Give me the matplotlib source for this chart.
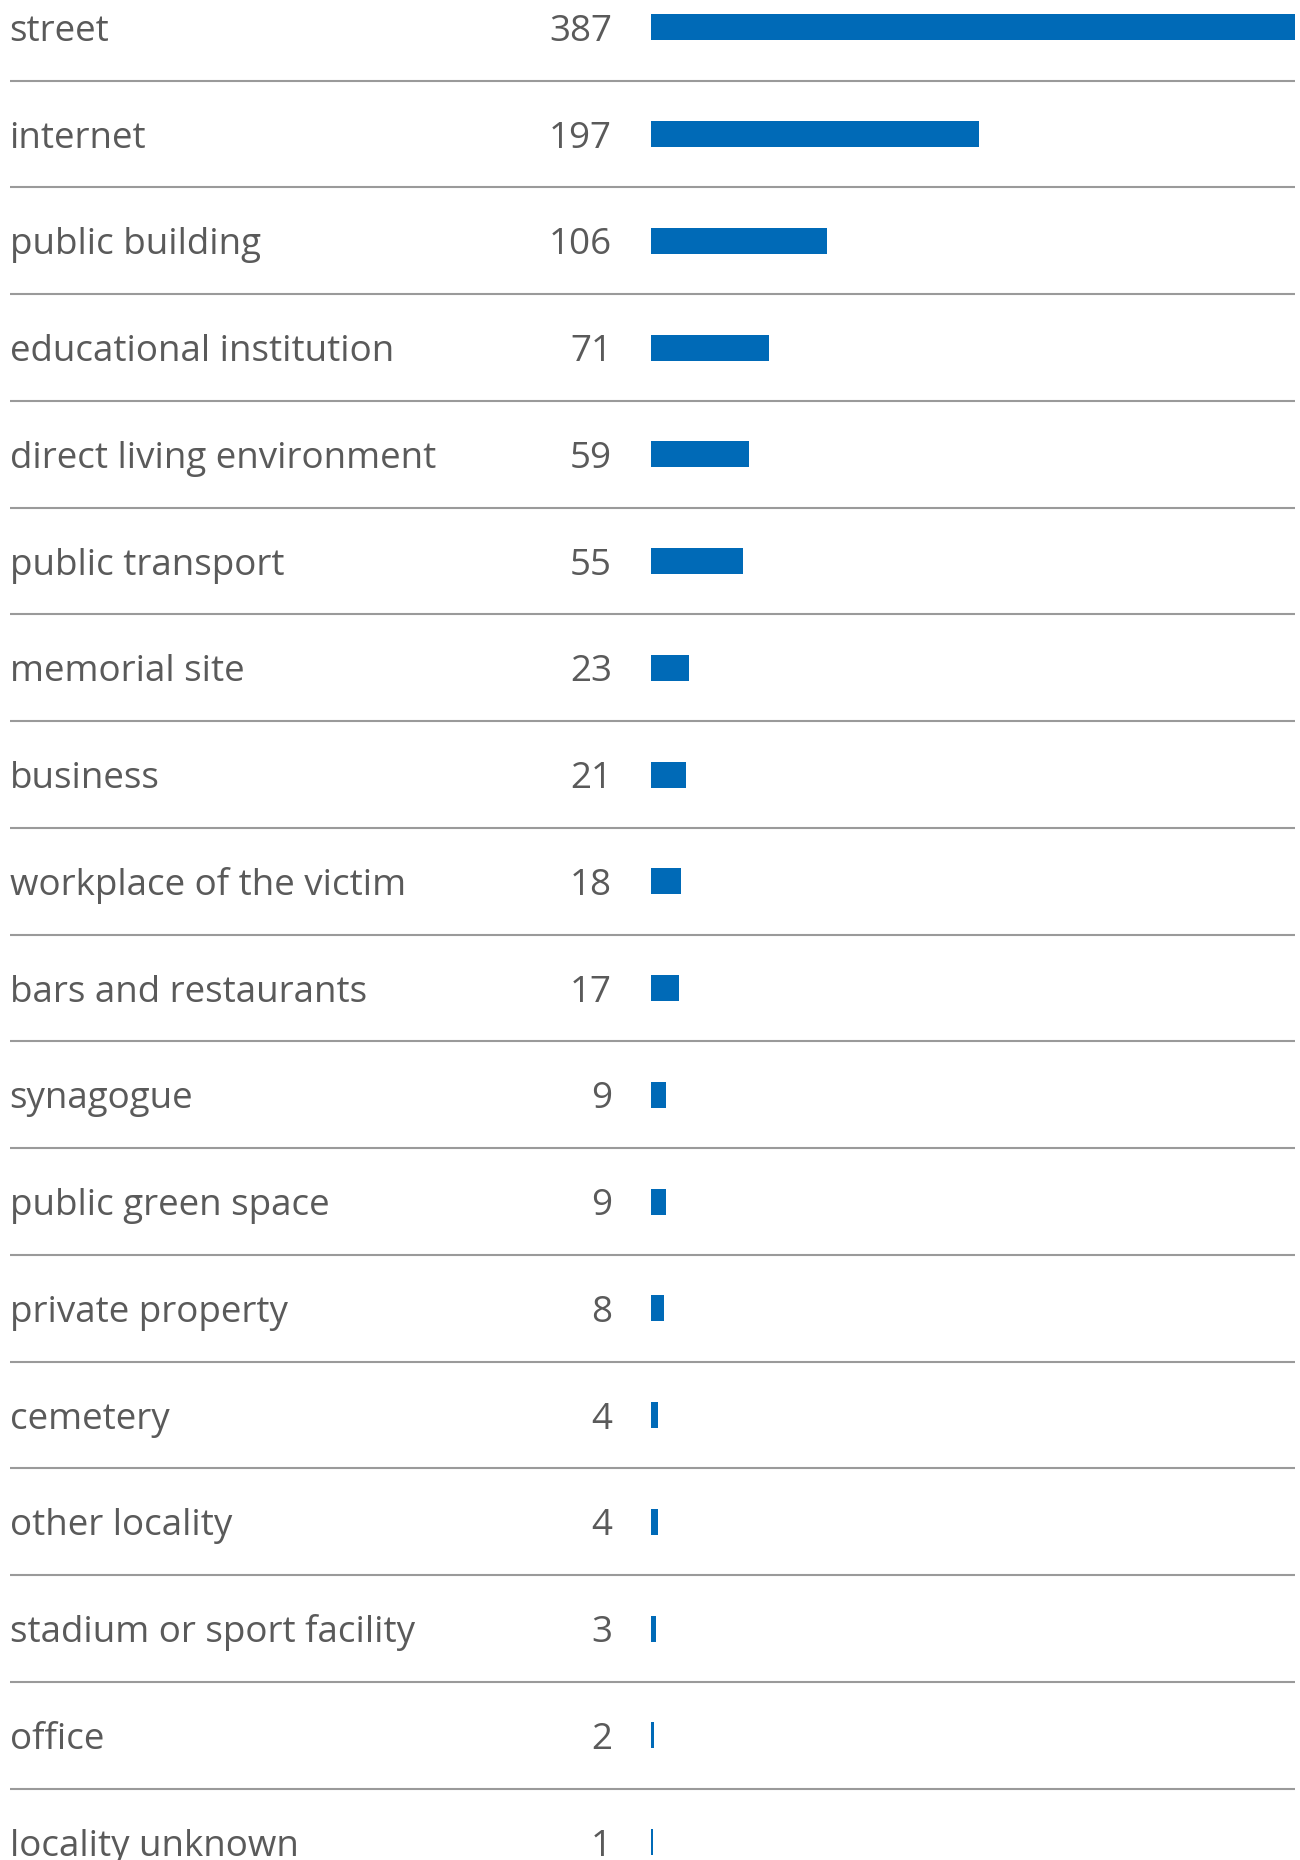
import matplotlib
matplotlib.use("Agg")
import matplotlib.pyplot as plt

categories = ["street", "internet", "public building", "educational institution",
              "direct living environment", "public transport", "memorial site", "business",
              "workplace of the victim", "bars and restaurants", "synagogue", "public green space",
              "private property", "cemetery", "other locality", "stadium or sport facility",
              "office", "locality unknown"]
values = [387, 197, 106, 71, 59, 55, 23, 21, 18, 17, 9, 9, 8, 4, 4, 3, 2, 1]

W, H = 1300, 1860
fig = plt.figure(figsize=(W / 100, H / 100), dpi=100)
ax = fig.add_axes([0, 0, 1, 1])
ax.set_axis_off()

pitch = 106.75
row0 = 27.3
bar_x0, bar_x1 = 651, 1295
scale = (bar_x1 - bar_x0) / max(values)
ax.set_xlim(-bar_x0 / scale, (W - bar_x0) / scale)
ax.set_ylim((H - row0) / pitch, -row0 / pitch)

ypos = list(range(len(categories)))
ax.barh(ypos, values, height=26 / pitch, left=0, color="#006AB7", linewidth=0)

tr = ax.get_yaxis_transform()
text_color = "#5A5A5A"
fs = 26.5
base_off = 13.5 / pitch
for i, (c, v) in enumerate(zip(categories, values)):
    ax.text(9.5 / W, i + base_off, c, transform=tr, ha="left", va="baseline",
            fontsize=fs, color=text_color, family="Open Sans")
    ax.text(612 / W, i + base_off, str(v), transform=tr, ha="right", va="baseline",
            fontsize=fs, color=text_color, family="Open Sans")
    if i < len(categories) - 1:
        ax.plot([9.5 / W, 1295 / W], [i + 0.5, i + 0.5], transform=tr,
                color="#9A9A9A", lw=1.5, solid_capstyle="butt")

fig.savefig("out.png", dpi=100)
